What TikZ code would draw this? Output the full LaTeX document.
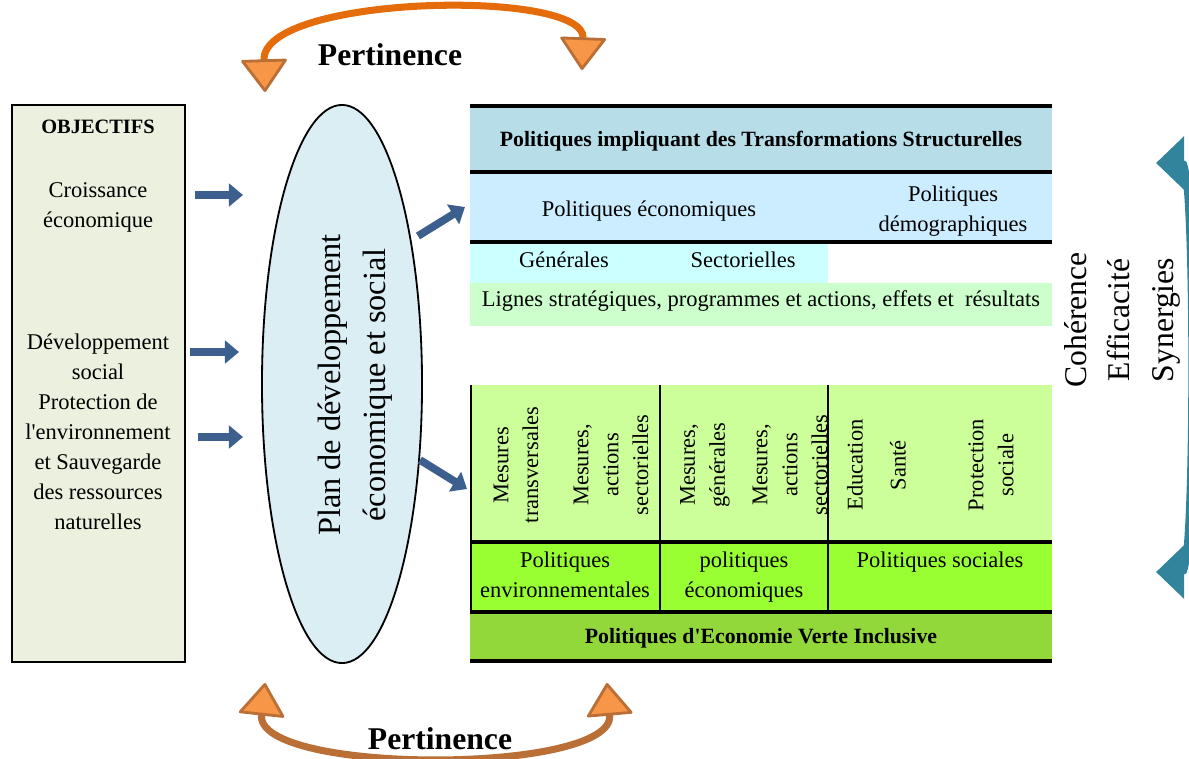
\documentclass[tikz,border=0pt]{standalone}
\usepackage{fontspec}
\setmainfont{Liberation Serif}[Ligatures=TeXOff]
\usetikzlibrary{arrows.meta, positioning, shapes.geometric}

\definecolor{objfill}{HTML}{EBF1DE}
\definecolor{ellfill}{HTML}{DBEEF4}
\definecolor{rowtitle}{HTML}{B7DEE8}
\definecolor{rowpol}{HTML}{CCECFF}
\definecolor{rowsub}{HTML}{CCFFFF}
\definecolor{rowlig}{HTML}{CCFFCC}
\definecolor{rowmes}{HTML}{CCFF99}
\definecolor{rowgreen}{HTML}{99FF33}
\definecolor{rowvert}{HTML}{92D83A}
\definecolor{arrblue}{HTML}{3C5F8E}
\definecolor{arrteal}{HTML}{31849B}
\definecolor{orline}{HTML}{E46C0A}
\definecolor{orbrown}{HTML}{B96F35}
\definecolor{orfill}{HTML}{F79646}

\tikzset{
  txt/.style={font=\fontsize{16}{21.3}\selectfont, align=center, inner sep=0pt}, % plain text
  upcol/.style={txt, rotate=90}, % upright columns
  head/.style={font=\bfseries\fontsize{15.5}{18}\selectfont, inner sep=0pt}, % table titles
  big/.style={font=\fontsize{23}{32}\selectfont, align=center, inner sep=0pt}, % large labels
  rule/.style={line width=2.8pt}, % thick table lines
  bluearr/.style={line width=5.5pt, arrblue, -{Triangle[width=16pt,length=10pt]}},
  pert/.style={line width=5pt, {Triangle[width=34pt,length=24pt,round,fill=orfill,color=orbrown,line width=2pt]}-{Triangle[width=34pt,length=24pt,round,fill=orfill,color=orbrown,line width=2pt]}},
  syn/.style={line width=5pt, arrteal, {Triangle[width=37pt,length=20pt]}-{Triangle[width=37pt,length=20pt]}},
}

\begin{document}
\begin{tikzpicture}[x=0.025cm, y=-0.025cm]
  \useasboundingbox (0,0) rectangle (1189,758);

  % objectives
  \draw[line width=2pt, fill=objfill] (12,105) rectangle (185,662);
  \node[head, font=\bfseries\fontsize{14.5}{18}\selectfont] (objt) at (98,127) {OBJECTIFS};
  \node[txt] (croi) at (98,207) {Croissance\\économique};
  \node[txt] (devs) at (98,432) {Développement\\social\\Protection de\\l'environnement\\et Sauvegarde\\des ressources\\naturelles};

  % plan
  \node[ellipse, draw, line width=1.3pt, fill=ellfill, minimum width=4cm, minimum height=13.95cm] (plan) at (342,384) {};
  \node[big, rotate=90] (plant) at (355,385) {Plan de développement\\économique et social};

  % top table
  \fill[rowtitle] (470,106) rectangle (1052,172);
  \fill[rowpol] (470,172) rectangle (1052,242);
  \fill[rowsub] (470,242) rectangle (828,283);
  \fill[rowlig] (470,283) rectangle (1052,326);
  \draw[rule] (470,106) -- (1052,106);
  \draw[rule] (470,172) -- (1052,172);
  \draw[rule] (470,242) -- (1052,242);
  \node[head] (pits) at (761,141) {Politiques impliquant des Transformations Structurelles};
  \node[txt] (peco) at (649,211) {Politiques économiques};
  \node[txt] (pdem) at (953,211) {Politiques\\démographiques};
  \node[txt] (gene) at (564,260) {Générales};
  \node[txt] (sect) at (743,260) {Sectorielles};
  \node[txt] (lign) at (761,301) {Lignes stratégiques, programmes et actions, effets et~ résultats};

  % bottom table
  \fill[rowmes] (470,385) rectangle (1052,542);
  \fill[rowgreen] (470,542) rectangle (1052,612);
  \fill[rowvert] (470,612) rectangle (1052,661);
  \draw[line width=1.2pt] (471,385) -- (471,612);
  \draw[line width=1.6pt] (660,385) -- (660,612);
  \draw[line width=1.6pt] (828,385) -- (828,612);
  \draw[rule] (470,542) -- (1052,542);
  \draw[rule] (470,612) -- (1052,612);
  \draw[rule] (470,661) -- (1052,661);
  \node[upcol] (mtra) at (516,465) {Mesures\\transversales};
  \node[upcol] (mact) at (611,465) {Mesures,\\actions\\sectorielles};
  \node[upcol] (mgen) at (705,465) {Mesures,\\générales};
  \node[upcol] (mase) at (790,465) {Mesures,\\actions\\sectorielles};
  \node[upcol] (educ) at (855,465) {Education};
  \node[upcol] (sant) at (898,465) {Santé};
  \node[upcol] (prot) at (991,465) {Protection\\sociale};
  \node[txt, anchor=north] (penv) at (565,552) {Politiques\\environnementales};
  \node[txt, anchor=north] (pecn) at (744,552) {politiques\\économiques};
  \node[txt, anchor=north] (psoc) at (940,552) {Politiques sociales};
  \node[head] (pevi) at (761,638) {Politiques d'Economie Verte Inclusive};

  % right side
  \node[big, font=\fontsize{22.5}{31}\selectfont] (ces) at (1122,320) [rotate=90] {Cohérence\\Efficacité\\Synergies};
  \coordinate (st) at (1156,163);
  \coordinate (sb) at (1156,572);
  \draw[syn] (st) .. controls (1195,163) and (1195,572) .. (sb);

  % arrows
  \coordinate (a1) at (195,195); \coordinate (b1) at (243,195);
  \coordinate (a2) at (190,352); \coordinate (b2) at (239,352);
  \coordinate (a3) at (198,437); \coordinate (b3) at (243,437);
  \coordinate (a4) at (418,236); \coordinate (b4) at (465,207);
  \coordinate (a5) at (420,460); \coordinate (b5) at (467,489);
  \path
    (a1) edge[bluearr] (b1)
    (a2) edge[bluearr] (b2)
    (a3) edge[bluearr] (b3)
    (a4) edge[bluearr] (b4)
    (a5) edge[bluearr] (b5);

  % pertinence
  \coordinate (tl) at (265,92);
  \coordinate (tr) at (582,70);
  \coordinate (bl) at (265,683);
  \coordinate (br) at (607,683);
  \draw[pert, orline] (tl) .. controls (262,-5) and (585,-12) .. (tr);
  \draw[pert, orbrown] (bl) .. controls (255,775) and (615,775) .. (br);
  \node[big, font=\bfseries\fontsize{22.5}{26}\selectfont] (pert1) at (390,55) {Pertinence};
  \node[big, font=\bfseries\fontsize{22.5}{26}\selectfont] (pert2) at (440,739) {Pertinence};
\end{tikzpicture}
\end{document}
